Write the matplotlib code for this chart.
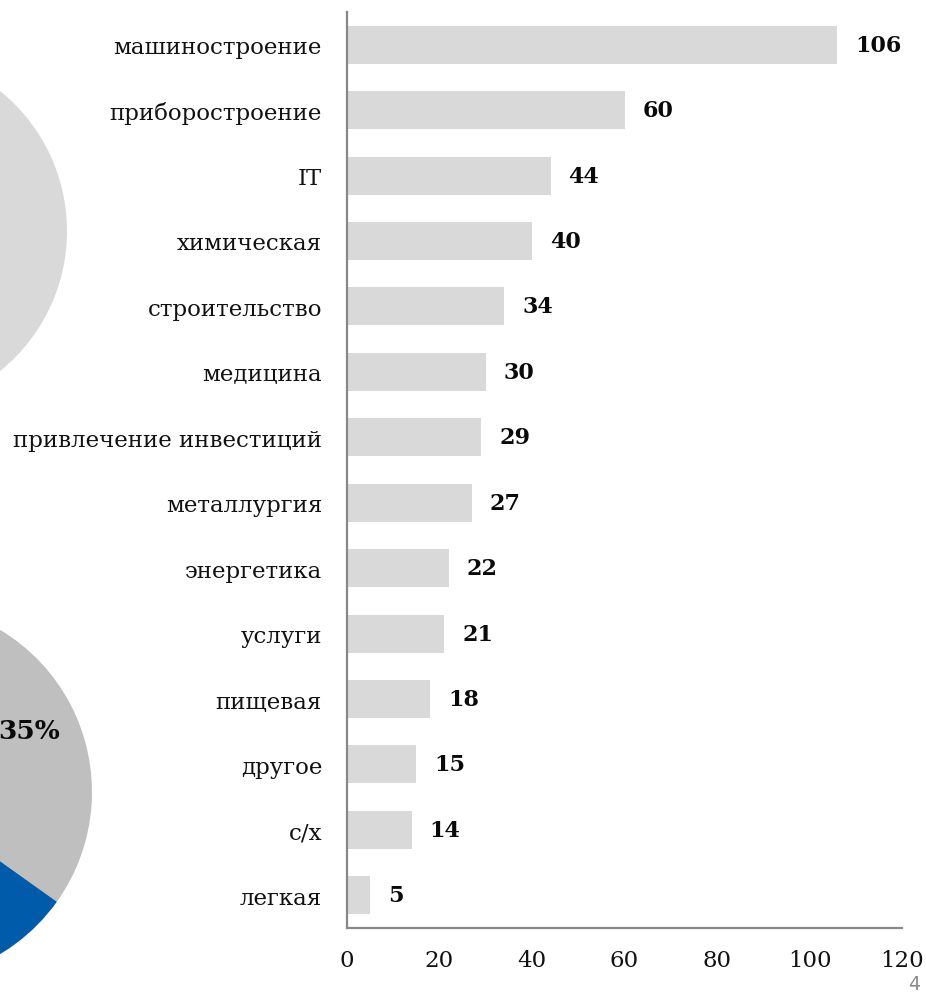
import matplotlib
matplotlib.use("Agg")
import matplotlib.pyplot as plt

categories = ["машиностроение", "приборостроение", "IT", "химическая", "строительство",
              "медицина", "привлечение инвестиций", "металлургия", "энергетика", "услуги",
              "пищевая", "другое", "с/х", "легкая"]
values = [106, 60, 44, 40, 34, 30, 29, 27, 22, 21, 18, 15, 14, 5]
xticks = [0, 20, 40, 60, 80, 100, 120]

# partially visible pies (only visible slices are known)
upper_pie_values = [60, 25, 15]
lower_pie_values = [35, 25, 20, 20]
lower_pie_labels = ["35%", "", "", ""]
page_number = "4"

W, H = 926, 995
fig = plt.figure(figsize=(W / 100, H / 100), dpi=100)
plt.rcParams['font.family'] = ['DejaVu Serif']

# ---- bar chart ----
ax = fig.add_axes([347 / W, 1 - 929 / H, (902 - 347) / W, (929 - 13) / H])
y = list(range(len(categories)))
bars = ax.barh(y, values, height=0.58, color="#d9d9d9", zorder=2)
ax.set_ylim(len(categories) - 0.5, -0.5)
ax.set_xlim(0, 120)
ax.set_yticks(y)
ax.set_yticklabels(categories, fontsize=16.5, color="#111111")
ax.set_xticks(xticks)
ax.set_xticklabels([str(t) for t in xticks], fontsize=16.5, color="#111111")
ax.tick_params(axis="y", length=0, pad=18)
ax.tick_params(axis="x", length=0, pad=15)
for s in ["top", "right"]:
    ax.spines[s].set_visible(False)
for s in ["left", "bottom"]:
    ax.spines[s].set_color("#888888")
    ax.spines[s].set_linewidth(1.6)
ax.bar_label(bars, labels=[str(v) for v in values], padding=13,
             fontsize=16, fontweight="bold", color="#0a0a0a")

# ---- upper partial pie ----
cx, cy, R = -113, 232, 180
pa = fig.add_axes([(cx - R) / W, 1 - (cy + R) / H, 2 * R / W, 2 * R / H])
pa.pie(upper_pie_values, colors=["#d9d9d9", "#005bab", "#bfbfbf"], startangle=-108,
       counterclock=True)
pa.set_xlim(-1, 1); pa.set_ylim(-1, 1); pa.set_aspect("auto"); pa.axis("off")

# ---- lower partial pie ----
cx, cy, R = -97, 793, 189
pb = fig.add_axes([(cx - R) / W, 1 - (cy + R) / H, 2 * R / W, 2 * R / H])
pb.pie(lower_pie_values, colors=["#bfbfbf", "#7f7f7f", "#d9d9d9", "#005bab"],
       startangle=-35.5, counterclock=True)
pb.set_xlim(-1, 1); pb.set_ylim(-1, 1); pb.set_aspect("auto"); pb.axis("off")
pb.text(0.667, 0.323, lower_pie_labels[0], fontsize=19, fontweight="bold",
        ha="center", va="center", color="#0a0a0a")

fig.text(914 / W, 1 - 994 / H, page_number, fontsize=13.5, color="#8a8a8a",
         family="DejaVu Sans", ha="center", va="bottom")

fig.savefig("out.png", dpi=100)
